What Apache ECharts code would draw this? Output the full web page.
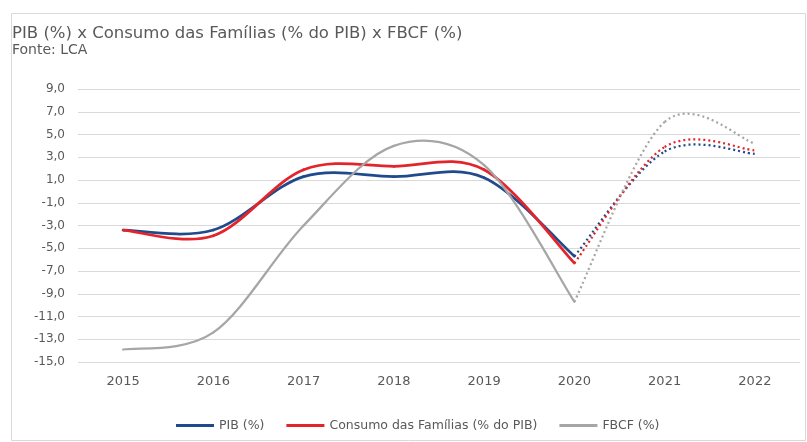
<!DOCTYPE html>
<html>
<head>
<meta charset="utf-8">
<script src="https://cdn.jsdelivr.net/npm/echarts@6/dist/echarts.min.js"></script>
<style>
  html, body { margin: 0; padding: 0; background: #ffffff; }
  #chart { width: 807px; height: 442px; }
</style>
</head>
<body>
<div id="chart"></div>
<script>
// Years on the category axis
const years = ['2015', '2016', '2017', '2018', '2019', '2020', '2021', '2022'];
// Index of the last realised year; later years are projections (dotted)
const lastActual = 5;

// Annual growth, %
const pib = [-3.4, -3.4, 1.3, 1.3, 1.2, -5.7, 3.5, 3.3];
const consumo = [-3.4, -3.9, 1.9, 2.2, 1.9, -6.3, 3.9, 3.6];
const fbcf = [-13.9, -12.4, -3.0, 4.0, 2.3, -9.7, 6.1, 4.2];

// Y axis range and step
const yMin = -15, yMax = 9, yStep = 2;

const names = ['PIB (%)', 'Consumo das Famílias (% do PIB)', 'FBCF (%)'];
const colors = ['#1f4a8c', '#e3242b', '#a6a6a6'];
const values = [pib, consumo, fbcf];

const fontFamily = '"DejaVu Sans", Verdana, sans-serif';

// Spreadsheet-style smoothed line: cubic Bezier segments whose control
// points follow the Catmull-Rom tangents (neighbour difference / 6).
function smoothLine(arr, from, to, style) {
  return function (params, api) {
    if (params.dataIndex !== 0) return null;
    const pts = [];
    for (let i = from; i <= to; i++) pts.push(api.coord([i, arr[i]]));
    const children = [];
    for (let i = 0; i < pts.length - 1; i++) {
      const p0 = pts[Math.max(i - 1, 0)];
      const p1 = pts[i];
      const p2 = pts[i + 1];
      const p3 = pts[Math.min(i + 2, pts.length - 1)];
      children.push({
        type: 'bezierCurve',
        shape: {
          x1: p1[0], y1: p1[1],
          cpx1: p1[0] + (p2[0] - p0[0]) / 6, cpy1: p1[1] + (p2[1] - p0[1]) / 6,
          cpx2: p2[0] - (p3[0] - p1[0]) / 6, cpy2: p2[1] - (p3[1] - p1[1]) / 6,
          x2: p2[0], y2: p2[1]
        },
        style: Object.assign({ fill: null }, style)
      });
    }
    return { type: 'group', children: children };
  };
}

const series = [];
values.forEach((arr, k) => {
  // realised years: solid
  series.push({
    name: names[k],
    type: 'custom',
    data: arr.slice(0, lastActual + 1).map((v, i) => [i, v]),
    itemStyle: { color: colors[k] },
    renderItem: smoothLine(arr, 0, lastActual, {
      stroke: colors[k], lineWidth: k === 2 ? 2.25 : 2.75, lineCap: 'round', lineJoin: 'round'
    }),
    clip: false,
    silent: true,
    z: 3
  });
  // projections: dotted
  series.push({
    name: names[k],
    type: 'custom',
    data: arr.slice(lastActual).map((v, i) => [i + lastActual, v]),
    itemStyle: { color: colors[k] },
    renderItem: smoothLine(arr, lastActual, arr.length - 1, {
      stroke: colors[k], lineWidth: 2.25, lineDash: [2, 3]
    }),
    clip: false,
    silent: true,
    z: 2
  });
});

const chart = echarts.init(document.getElementById('chart'), null, { renderer: 'canvas' });
chart.setOption({
  animation: false,
  backgroundColor: '#ffffff',
  textStyle: { fontFamily: fontFamily },
  graphic: [{
    type: 'rect',
    shape: { x: 11.5, y: 13.5, width: 794, height: 427 },
    style: { fill: 'none', stroke: '#d9d9d9', lineWidth: 1 },
    silent: true,
    z: -1
  }],
  title: {
    text: 'PIB (%) x Consumo das Famílias (% do PIB) x FBCF (%)',
    subtext: 'Fonte: LCA',
    left: 12,
    top: 25,
    padding: 0,
    itemGap: 1,
    textStyle: { fontSize: 16.5, fontWeight: 'normal', color: '#595959', fontFamily: fontFamily },
    subtextStyle: { fontSize: 14, color: '#595959', fontFamily: fontFamily }
  },
  legend: {
    data: names.map((n, k) => ({ name: n, itemStyle: { color: colors[k] } })),
    bottom: 10,
    left: 176,
    padding: 0,
    itemWidth: 38,
    itemHeight: 3,
    itemGap: 22,
    icon: 'rect',
    textStyle: { fontSize: 12.5, color: '#595959', fontFamily: fontFamily }
  },
  grid: { left: 78, right: 7, top: 89, bottom: 80 },
  xAxis: {
    type: 'category',
    data: years,
    boundaryGap: true,
    axisLine: { show: false },
    axisTick: { show: false },
    axisLabel: { color: '#595959', fontSize: 13, margin: 13, fontFamily: fontFamily }
  },
  yAxis: {
    type: 'value',
    min: yMin,
    max: yMax,
    interval: yStep,
    axisLine: { show: false },
    axisTick: { show: false },
    axisLabel: {
      color: '#595959',
      fontSize: 12,
      margin: 13,
      fontFamily: fontFamily,
      formatter: v => v.toFixed(1).replace('.', ',')
    },
    splitLine: { lineStyle: { color: '#d9d9d9', width: 1 } }
  },
  series: series
});
</script>
</body>
</html>
